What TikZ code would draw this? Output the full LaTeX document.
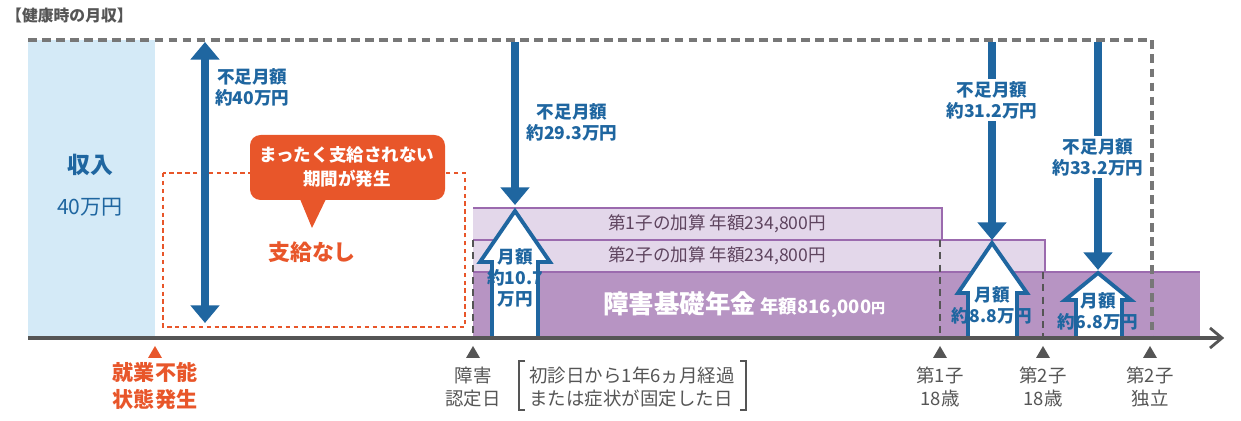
\documentclass[tikz,border=0pt]{standalone}
\usepackage{fontspec}
\setmainfont{Noto Sans CJK JP}
\usetikzlibrary{arrows.meta}
\definecolor{blu}{HTML}{1F66A0}
\definecolor{org}{HTML}{E8562A}
\definecolor{plight}{HTML}{E3D7EA}
\definecolor{pdark}{HTML}{B794C3}
\definecolor{pline}{HTML}{9B6AAE}
\definecolor{gtxt}{HTML}{555555}
\definecolor{lblue}{HTML}{D4EAF7}
\tikzset{
 lab/.style={text=blu,font=\fontsize{10}{12}\selectfont\bfseries,align=center,inner sep=1pt},
 darr/.style={draw=blu,line width=4.5pt,-{Triangle[length=10pt,width=16pt]}},
 dbl/.style={draw=blu,line width=4.5pt,{Triangle[length=10pt,width=16pt]}-{Triangle[length=10pt,width=16pt]}},
 blk/.style={draw=blu,line width=2.2pt,fill=white},
 axlab/.style={text=gtxt,font=\fontsize{10.5}{13}\selectfont,align=center},
}
\begin{document}
\begin{tikzpicture}[x=0.02cm,y=-0.02cm]
\useasboundingbox (0,0) rectangle (1241,421);
\node[anchor=west,text=gtxt,font=\fontsize{9}{10}\selectfont\bfseries] (title) at (0,16) {【健康時の月収】};
\fill[lblue] (28,40) rectangle (155,338);
\node[text=blu,font=\fontsize{13}{15}\selectfont\bfseries] (inc) at (90,165) {収入};
\node[text=blu,font=\fontsize{12}{14}\selectfont] (inc2) at (90,207) {40万円};
% purple bars
\fill[plight] (473,208) rectangle (942,240);
\fill[plight] (473,240) rectangle (1045,272);
\draw[pline,line width=0.6pt] (473,208) -- (942,208) -- (942,240) (473,240) -- (1045,240) -- (1045,272);
\fill[pdark] (473,272) rectangle (1200,338);
\draw[pline,line width=0.6pt] (473,272) -- (1200,272);
\node[anchor=west,text=gtxt!80!violet,font=\fontsize{10}{11}\selectfont] (c1) at (602,224) {第1子の加算\ 年額234,800円};
\node[anchor=west,text=gtxt!80!violet,font=\fontsize{10}{11}\selectfont] (c2) at (602,256) {第2子の加算\ 年額234,800円};
\node[anchor=west,text=white,inner sep=0pt] (base) at (603,305) {\fontsize{14.5}{16}\selectfont\bfseries 障害基礎年金\,\fontsize{10.5}{12}\selectfont 年額816,000\fontsize{8}{9}\selectfont 円};
% dashed frame
\draw[gtxt!80,line width=2pt,dash pattern=on 5pt off 3pt] (28,40) -- (1152,40) -- (1152,338);
\draw[gtxt,line width=1.6pt,dash pattern=on 4pt off 3pt] (473,240) -- (473,338);
\draw[gtxt,line width=1.6pt,dash pattern=on 4pt off 3pt] (940,240) -- (940,338);
\draw[gtxt,line width=1.6pt,dash pattern=on 4pt off 3pt] (1043,272) -- (1043,338);
% orange
\draw[org,line width=1.6pt,dash pattern=on 2.5pt off 2pt] (163,173) rectangle (465,327);
\fill[org,rounded corners=6pt] (250,135) rectangle (445,200);
\fill[org] (300,199) -- (312,228) -- (326,199) -- cycle;
\node[text=white,font=\fontsize{10}{14}\selectfont\bfseries,align=center] (call) at (347,167) {まったく支給されない\\期間が発生};
\node[text=org,font=\fontsize{12.5}{14}\selectfont\bfseries] (none) at (312,252) {支給なし};
% block arrows
\draw[blk] (492,338) -- (492,262) -- (480,262) -- (515,211) -- (550,262) -- (538,262) -- (538,338);
\draw[blk] (968,338) -- (968,293) -- (958,293) -- (992,243) -- (1027,293) -- (1017,293) -- (1017,338);
\draw[blk] (1076,338) -- (1076,300) -- (1065,300) -- (1098,273) -- (1131,300) -- (1122,300) -- (1122,338);
\node[lab] (a1) at (515,278) {月額\\約10.7\\万円};
\node[lab] (a2) at (992,305) {月額\\約8.8万円};
\node[lab] (a3) at (1098,311) {月額\\約6.8万円};
% axis
\draw[gtxt,line width=2.2pt] (28,338) -- (1222,338);
\draw[gtxt,line width=1.6pt] (1210,328) -- (1222,338) -- (1210,348);
% down arrows
\coordinate (t0) at (205,42); \coordinate (b0) at (205,323);
\draw[dbl] (t0) -- (b0);
\node[lab,anchor=north west] (l0) at (213,66) {不足月額\\約40万円};
\coordinate (t1) at (515,42); \coordinate (b1) at (515,205);
\draw[darr] (t1) -- (b1);
\node[lab] (l1) at (572,122) {不足月額\\約29.3万円};
\coordinate (t2) at (992,42); \coordinate (b2) at (992,240);
\draw[darr] (t2) -- (b2);
\node[lab,fill=white] (l2) at (992,100) {不足月額\\約31.2万円};
\coordinate (t3) at (1098,42); \coordinate (b3) at (1098,270);
\draw[darr] (t3) -- (b3);
\node[lab,fill=white] (l3) at (1098,157) {不足月額\\約33.2万円};
% markers
\fill[org] (148,358) -- (155,346) -- (162,358) -- cycle;
\node[text=org,font=\fontsize{12}{15}\selectfont\bfseries,align=center] (m0) at (155,386) {就業不能\\状態発生};
\foreach \x in {473,940,1043,1150}{\fill[gtxt] (\x-7,358) -- (\x,346) -- (\x+7,358) -- cycle;}
\node[axlab] (m1) at (473,387) {障害\\認定日};
\node[axlab] (m2) at (940,387) {第1子\\18歳};
\node[axlab] (m3) at (1043,387) {第2子\\18歳};
\node[axlab] (m4) at (1150,387) {第2子\\独立};
\node[axlab,align=left] (br) at (632,387) {初診日から1年6ヵ月経過\\または症状が固定した日};
\draw[gtxt,line width=0.6pt] (525,361) -- (519,361) -- (519,410) -- (525,410);
\draw[gtxt,line width=0.6pt] (740,361) -- (746,361) -- (746,410) -- (740,410);
\end{tikzpicture}
\end{document}
